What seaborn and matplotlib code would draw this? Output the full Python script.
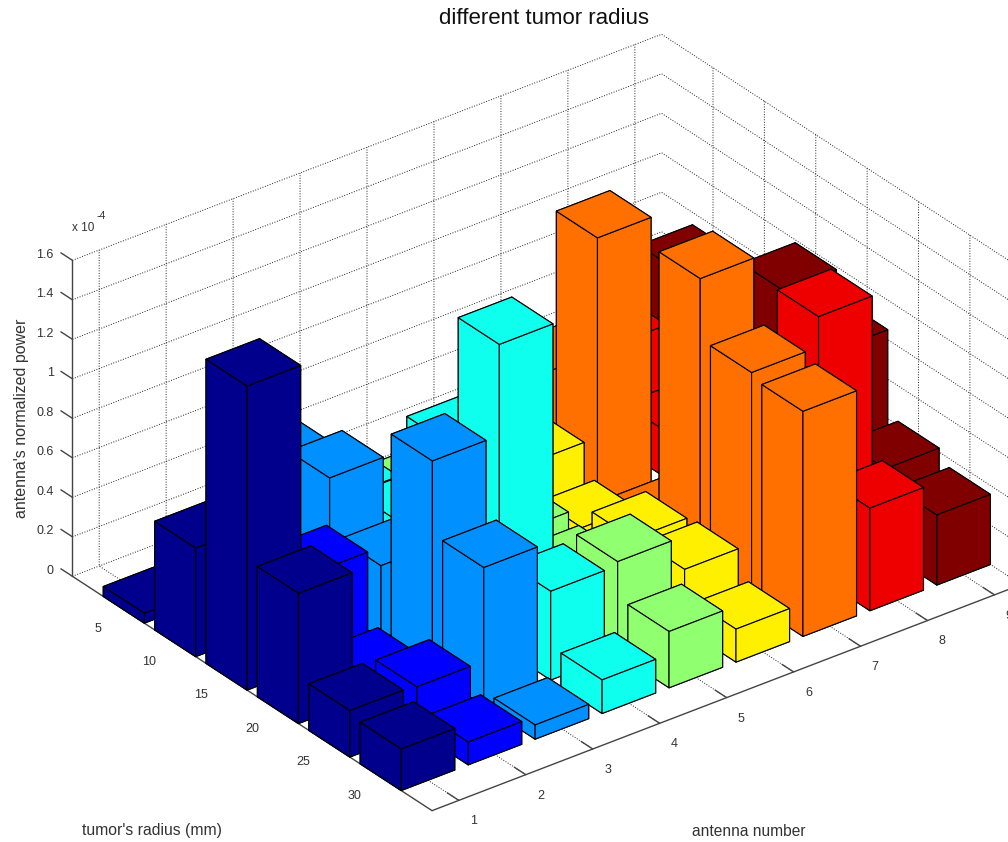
import matplotlib
matplotlib.use("Agg")
import matplotlib.pyplot as plt
from matplotlib.transforms import Affine2D
import seaborn as sns

antennas = [1, 2, 3, 4, 5, 6, 7, 8, 9]
radii = [5, 10, 15, 20, 25, 30]
z_ticks = [0, 0.2, 0.4, 0.6, 0.8, 1, 1.2, 1.4, 1.6]

# normalized power (x 1e-4): one list per antenna, in order of radius
ant1 = [0.05, 0.55, 1.54, 0.66, 0.235, 0.21]
ant2 = [0.15, 0.20, 0.465, 0.116, 0.225, 0.115]
ant3 = [0.55, 0.645, 0.37, 1.07, 0.70, 0.072]
ant4 = [0.25, 0.30, 0.86, 1.53, 0.45, 0.17]
ant5 = [0.15, 0.20, 0.277, 0.243, 0.47, 0.285]
ant6 = [0.30, 0.33, 0.172, 0.285, 0.30, 0.167]
ant7 = [0.49, 1.34, 0.055, 1.473, 1.167, 1.14]
ant8 = [0.496, 0.235, 0.50, 0.50, 1.32, 0.52]
ant9 = [0.737, 0.60, 0.985, 0.85, 0.42, 0.355]
power = [ant1, ant2, ant3, ant4, ant5, ant6, ant7, ant8, ant9]

colors = ["#00008C", "#0000FF", "#0090FF", "#0FFFEF", "#90FF70",
          "#FFF000", "#FF7000", "#EF0000", "#800000"]

sns.set_theme(style="white", rc={
    "font.family": ["Liberation Sans", "DejaVu Sans"],
    "grid.color": "#222222",
    "grid.linewidth": 0.7,
    "grid.linestyle": ":",
    "xtick.color": "#444444",
    "ytick.color": "#444444",
    "axes.grid": True,
})

W, H = 1008, 842
fig = plt.figure(figsize=(W / 100, H / 100), dpi=100, facecolor="white")
S = 987.0
ax = fig.add_axes([40 / W, (H - 929.3) / H, S / W, S / H], projection="3d",
                  proj_type="ortho", computed_zorder=False)
ax.view_init(elev=30, azim=-127.5)
ax.set_box_aspect((743, 591, 365))
ax.set_xlim(0.6, 9.4)
ax.set_ylim(35, 0)
ax.set_zlim(0, 1.6)

order = 0
for i in reversed(range(len(antennas))):
    for j in range(len(radii)):
        poly = ax.bar3d(antennas[i] - 0.4, radii[j] - 2, 0, 0.8, 4, power[i][j],
                        color=colors[i], edgecolor="black", linewidth=0.8, shade=False)
        poly.set_zorder(10 + order)
        order += 1

ax.set_xticks(antennas)
ax.set_yticks(radii)
ax.set_zticks(z_ticks)
ax.set_zticklabels([f"{t:g}" for t in z_ticks])
ax.zaxis.set_ticks_position("lower")

for axis in (ax.xaxis, ax.yaxis, ax.zaxis):
    axis.pane.set_visible(False)
    axis.line.set_color("#444444")
    axis.line.set_linewidth(1.0)
    axis._axinfo["tick"]["inward_factor"] = 0.0
    axis._axinfo["tick"]["outward_factor"] = 0.4
    axis._axinfo["tick"]["linewidth"] = {True: 1.0, False: 0.5}

ax.tick_params(axis="both", labelsize=9, labelcolor="#333333", pad=0)
ax.tick_params(axis="z", labelsize=9, labelcolor="#333333", pad=0)


def shift_tick_labels(axis, dx, dy, ha):
    # Axis3D resets tick transforms whenever it fetches its ticks, so the
    # pixel offset of the labels has to be reapplied there.
    original = axis.get_major_ticks

    def get_major_ticks(numticks=None):
        ticks = original(numticks)
        for tick in ticks:
            tick.label1.set_horizontalalignment(ha)
            tick.label1.set_transform(ax.transData + Affine2D().translate(dx, dy))
        return ticks

    axis.get_major_ticks = get_major_ticks


shift_tick_labels(ax.xaxis, 7, -3, "center")
shift_tick_labels(ax.yaxis, -13, -1, "center")
shift_tick_labels(ax.zaxis, 2, 11.5, "right")

fig.suptitle("different tumor radius", x=544 / W, y=1 - 18 / H, ha="center", va="center",
             fontsize=16, color="#111111")

fig.text(152 / W, 1 - 831 / H, "tumor's radius (mm)", ha="center", va="center",
         fontsize=11.3, color="#333333")
fig.text(749 / W, 1 - 832 / H, "antenna number", ha="center", va="center",
         fontsize=11.2, color="#333333")
fig.text(22 / W, 1 - 418 / H, "antenna's normalized power", ha="center", va="center",
         rotation=90, fontsize=11.5, color="#333333")
fig.text(72 / W, 1 - 228 / H, "x 10", ha="left", va="center", fontsize=8.5, color="#333333")
fig.text(97 / W, 1 - 216 / H, "-4", ha="left", va="center", fontsize=7.5, color="#333333")

fig.savefig("out.png", dpi=100, facecolor="white")
